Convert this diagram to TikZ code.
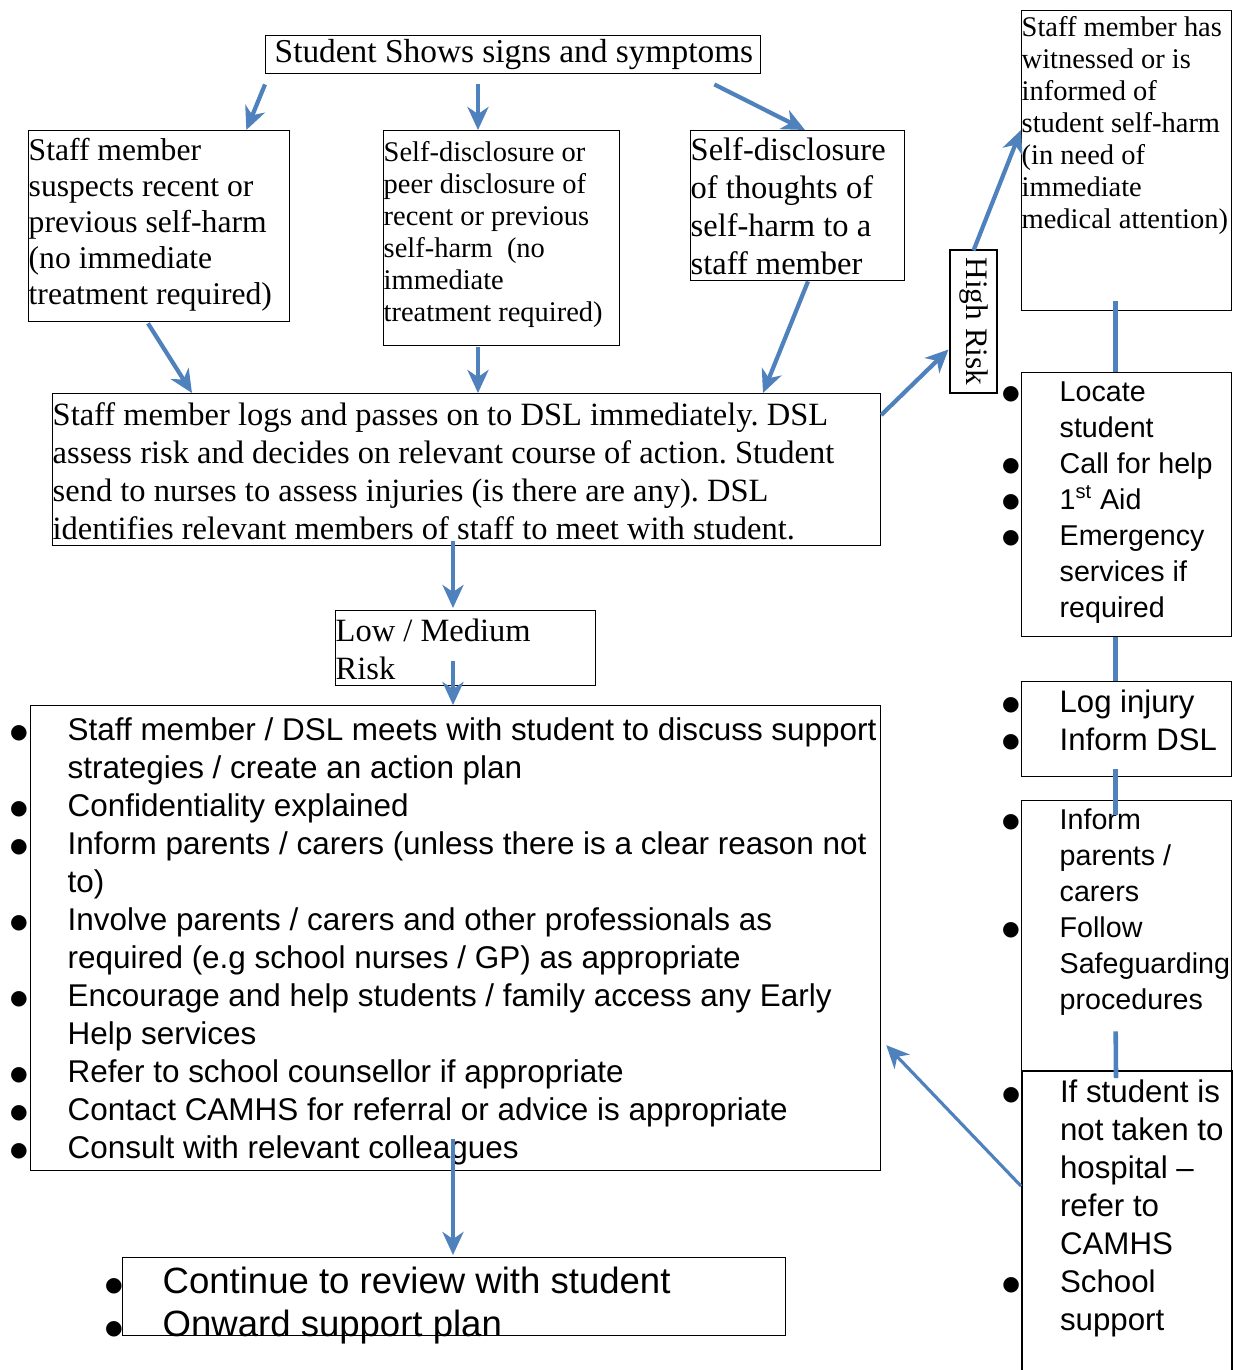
\documentclass[tikz,border=0pt]{standalone}
\usepackage{fontspec}
\setmainfont{Liberation Serif}
\setsansfont{Liberation Sans}
\newfontfamily\simbolos{DejaVu Sans}
\usepackage{tikz}
\usetikzlibrary{arrows.meta,calc}
\definecolor{azul}{RGB}{79,129,189}
\newcommand{\vin}{\leavevmode
  \llap{\raisebox{1.2pt}{\simbolos\fontsize{11.5}{11.5}\selectfont ●}\hspace{0.8cm}}}

\begin{document}
\begin{tikzpicture}[
  x=0.02cm, y=-0.02cm,
  caja/.style={draw, line width=0.8pt, inner sep=0pt, anchor=north west},
  flecha/.style={draw=azul, line width=2.4pt,
                 -{Stealth[length=0.46cm, width=0.42cm, inset=0.14cm]}},
  enlace/.style={draw=azul, line width=2.6pt},
]
\useasboundingbox (0,0) rectangle (1233,1370);
% ---- Entradas -------------------------------------------------------------
\node[caja, font=\rmfamily\fontsize{19}{22}\selectfont] (signs) at (265,35)
  {\parbox[c][0.76cm][c]{9.9cm}{\hspace*{0.18cm}Student Shows signs and symptoms}};
\node[caja, font=\rmfamily\fontsize{18}{20.5}\selectfont] (suspect) at (28,130)
  {\parbox[c][3.82cm][t]{5.22cm}{\raggedright\vspace*{4pt}Staff member\\
  suspects recent or\\ previous self-harm\\ (no immediate\\
  treatment required)}};
\node[caja, font=\rmfamily\fontsize{16.2}{18.2}\selectfont] (disclose) at (383,130)
  {\parbox[c][4.3cm][t]{4.72cm}{\raggedright\vspace*{6pt}Self-disclosure or\\
  peer disclosure of\\ recent or previous\\ self-harm~ (no\\ immediate\\
  treatment required)}};
\node[caja, font=\rmfamily\fontsize{18.5}{21.6}\selectfont] (thoughts) at (690,130)
  {\parbox[c][3.0cm][t]{4.28cm}{\raggedright\vspace*{4pt}Self-disclosure\\
  of thoughts of\\ self-harm to a\\ staff member}};
\node[caja, font=\rmfamily\fontsize{16.2}{18.2}\selectfont] (witness) at (1021,10)
  {\parbox[c][6.0cm][t]{4.2cm}{\raggedright\vspace*{3.5pt}Staff member has\\
  witnessed or is\\ informed of\\ student self-harm\\ (in need of\\ immediate\\
  medical attention)}};
% ---- DSL ------------------------------------------------------------------
\node[caja, font=\rmfamily\fontsize{18.5}{21.6}\selectfont] (dsl) at (52,393)
  {\parbox[c][3.04cm][t]{16.56cm}{\raggedright\frenchspacing\vspace*{5pt}Staff
  member logs and passes on to DSL immediately. DSL\\ assess risk and decides
  on relevant course of action. Student\\ send to nurses to assess injuries (is
  there are any). DSL\\ identifies relevant members of staff to meet with
  student.}};
\node[draw, line width=0.8pt, rotate=-90, minimum width=2.86cm,
  minimum height=0.94cm, inner sep=0pt,
  font=\rmfamily\fontsize{17.8}{20}\selectfont] (highrisk) at (973.5,321.5)
  {High Risk};
\node[caja, font=\rmfamily\fontsize{18.5}{21.6}\selectfont] (lowrisk) at (335,610)
  {\parbox[c][1.5cm][t]{5.2cm}{\raggedright\vspace*{4.5pt}Low / Medium\\ Risk}};
% ---- Riesgo bajo / medio ----------------------------------------------------
\node[caja, font=\sffamily\fontsize{17.9}{21.6}\selectfont] (support) at (30,705)
  {\parbox[c][9.3cm][t]{17.0cm}{\raggedright\leftskip=0.74cm\vspace*{7pt}
  \vin Staff member / DSL meets with student to discuss support\\
  strategies / create an action plan\\
  \vin Confidentiality explained\\
  \vin Inform parents / carers (unless there is a clear reason not\\ to)\\
  \vin Involve parents / carers and other professionals as\\
  required (e.g school nurses / GP) as appropriate\\
  \vin Encourage and help students / family access any Early\\
  Help services\\
  \vin Refer to school counsellor if appropriate\\
  \vin Contact CAMHS for referral or advice is appropriate\\
  \vin Consult with relevant colleagues}};
\node[caja, font=\sffamily\fontsize{20.8}{24.5}\selectfont] (review) at (122,1257)
  {\parbox[c][1.56cm][t]{13.26cm}{\raggedright\leftskip=0.8cm\vspace*{5.5pt}
  \vin Continue to review with student\\
  \vin Onward support plan}};
% ---- Riesgo alto ------------------------------------------------------------
\node[caja, font=\sffamily\fontsize{16.3}{20.5}\selectfont] (locate) at (1021,372)
  {\parbox[c][5.28cm][t]{4.2cm}{\raggedright\leftskip=0.76cm\vspace*{5pt}
  \vin Locate\\ student\\
  \vin Call for help\\
  \vin 1\textsuperscript{st} Aid\\
  \vin Emergency\\ services if\\ required}};
\node[caja, font=\sffamily\fontsize{17.7}{21.6}\selectfont] (loginjury) at (1021,681)
  {\parbox[c][1.9cm][t]{4.2cm}{\raggedright\leftskip=0.76cm\vspace*{4.5pt}
  \vin Log injury\\
  \vin Inform DSL}};
\node[caja, font=\sffamily\fontsize{16.3}{20.5}\selectfont] (inform) at (1021,800)
  {\parbox[c][5.4cm][t]{4.2cm}{\raggedright\leftskip=0.76cm\vspace*{4.5pt}
  \vin Inform\\ parents /\\ carers\\
  \vin Follow\\ Safeguarding\\ procedures}};
\node[caja, line width=1.2pt, font=\sffamily\fontsize{17.8}{21.6}\selectfont]
  (hospital) at (1021,1070)
  {\parbox[c][6.2cm][t]{4.2cm}{\raggedright\leftskip=0.76cm\vspace*{5pt}
  \vin If student is\\ not taken to\\ hospital --\\ refer to\\ CAMHS\\
  \vin School\\ support}};
% ---- Flechas ----------------------------------------------------------------
\draw[flecha] ($(signs.south west)+(0,10)$) -- ($(suspect.north east)+(-44,0)$);
\draw[flecha] ($(signs.south west)+(213,10)$) -- ($(disclose.north west)+(95,0)$);
\draw[flecha] ($(signs.south east)+(-47,10)$) -- ($(thoughts.north west)+(115,0)$);
\draw[flecha] ($(suspect.south west)+(120,1)$) -- ($(dsl.north west)+(140,0)$);
\draw[flecha] ($(disclose.south west)+(95,1)$) -- ($(dsl.north west)+(426,0)$);
\draw[flecha] ($(thoughts.south west)+(118,0)$) -- ($(dsl.north west)+(711,0)$);
\draw[flecha] ($(dsl.north east)+(0,22)$) -- ($(highrisk.center)+(-25,28)$);
\draw[flecha] ($(highrisk.center)+(0,-71)$) -- ($(witness.north west)+(0,120)$);
\draw[flecha] ($(dsl.south west)+(401,-5)$) -- ($(lowrisk.north west)+(118,-2)$);
\draw[flecha] ($(lowrisk.south west)+(118,-25)$) -- ($(support.north west)+(423,0)$);
\draw[flecha] ($(support.south west)+(423,-32)$) -- ($(review.north west)+(331,-2)$);
\draw[flecha, line width=1.8pt] ($(hospital.west)+(0,-40)$)
  -- ($(support.east)+(5,107)$);
\draw[enlace] ($(witness.south)+(-11,-10)$) -- ($(locate.north)+(-11,0)$);
\draw[enlace] ($(locate.south)+(-11,0)$) -- ($(loginjury.north)+(-11,0)$);
\draw[enlace] ($(loginjury.south)+(-11,-8)$) -- ($(inform.north)+(-11,15)$);
\draw[enlace] ($(inform.south)+(-11,-40)$) -- ($(hospital.north)+(-11,8)$);
\end{tikzpicture}
\end{document}
